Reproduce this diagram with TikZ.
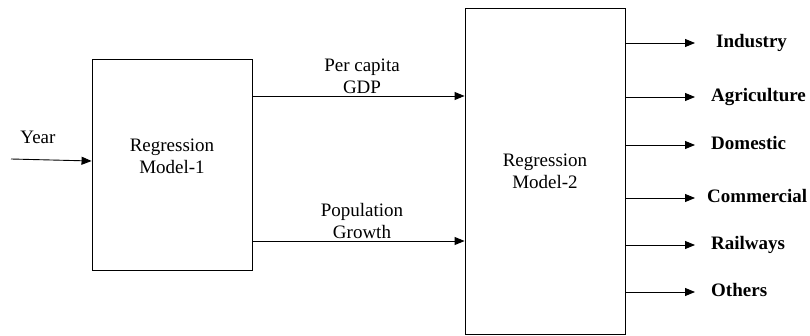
\documentclass[tikz,border=0pt]{standalone}
\usepackage{fontspec}
\setmainfont{Liberation Serif}
\usetikzlibrary{arrows.meta}
\begin{document}
\begin{tikzpicture}[x=1pt,y=-1pt,
  every node/.style={font=\fontsize{19}{22}\selectfont},
  box/.style={draw, line width=0.9pt, inner sep=0pt},
  arr/.style={line width=0.9pt, -{Triangle[length=10pt,width=8pt]}},
  txt/.style={align=center, inner sep=0pt},
  outlbl/.style={anchor=west, inner sep=0pt, font=\fontsize{19}{22}\selectfont\bfseries,
    text height=13pt, text depth=4pt}]
\useasboundingbox (0,0) rectangle (810,336);

% the two regression blocks
\node[box, minimum width=160pt, minimum height=211pt] (m1) at (172,164.5) {};
\node[txt] (m1text) at (172,156) {Regression\\Model-1};
\node[box, align=center, minimum width=160pt, minimum height=326pt] (m2) at (545,171)
  {Regression\\Model-2};

% input
\coordinate (yr) at (11,159);
\node[txt] (yearlbl) at (38,137) {Year};
\draw[arr] (yr) -- (m1.west |- 0,161);

% links between the models
\draw[arr] (m1.east |- 0,96) -- (m2.west |- 0,96);
\node[txt] (gdp) at (362,76) {Per capita\\GDP};
\draw[arr] (m1.east |- 0,241) -- (m2.west |- 0,241);
\node[txt] (pop) at (362,221) {Population\\Growth};

% outputs
\coordinate (tipx) at (695,0);
\node[outlbl] (ind) at (716,43) {Industry};
\node[outlbl] (agr) at (711,97) {Agriculture};
\node[outlbl] (dom) at (711,145) {Domestic};
\node[outlbl] (com) at (707,198) {Commercial};
\node[outlbl] (rail) at (711,245) {Railways};
\node[outlbl] (oth) at (711,292) {Others};
\foreach \n in {ind,agr,dom,com,rail,oth}
  \draw[arr] (m2.east |- \n) -- (tipx |- \n);
\end{tikzpicture}
\end{document}
